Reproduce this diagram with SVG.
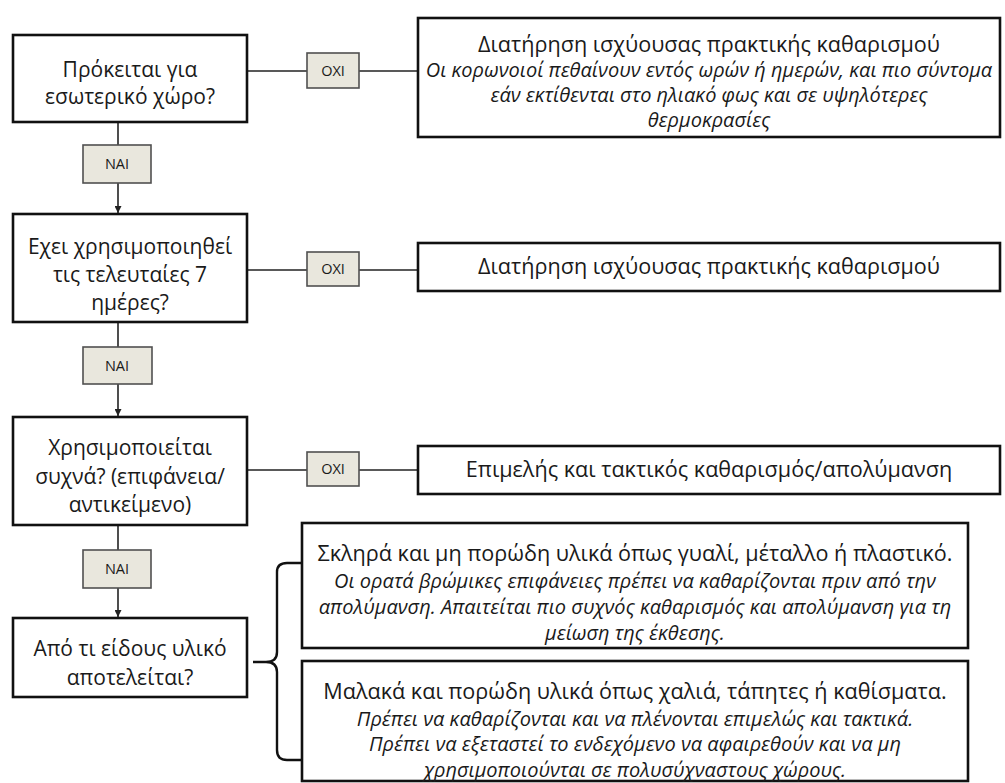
<svg xmlns="http://www.w3.org/2000/svg" width="1005" height="783" viewBox="0 0 1005 783">
<defs>
<style>
.box{fill:#fff;stroke:#111;stroke-width:2.6}
.lbl{fill:#e9e7dd;stroke:#505050;stroke-width:1.6}
.con{fill:none;stroke:#222;stroke-width:1.6}
.t{font-family:"Open Sans","Liberation Sans",Arial,sans-serif;fill:#1a1a1a;text-anchor:middle}
.q{font-size:21px}
.h{font-size:21.6px}
.i{font-size:20px;font-style:italic}
.l{font-size:14.5px}
</style>
<marker id="arr" viewBox="0 0 10 10" refX="10" refY="5" markerWidth="7" markerHeight="7" orient="auto" markerUnits="userSpaceOnUse">
<path d="M0,0 L10,5 L0,10 z" fill="#222"/>
</marker>
</defs>
<rect width="1005" height="783" fill="#fff"/>

<g id="connectors">
<line class="con" x1="247" y1="71" x2="307" y2="71"/>
<line class="con" x1="359" y1="71" x2="418" y2="71"/>
<line class="con" x1="247" y1="270" x2="307" y2="270"/>
<line class="con" x1="359" y1="270" x2="418" y2="270"/>
<line class="con" x1="247" y1="470" x2="307" y2="470"/>
<line class="con" x1="359" y1="470" x2="418" y2="470"/>
<line class="con" x1="118" y1="122" x2="118" y2="145"/>
<line class="con" x1="118" y1="183" x2="118" y2="213" marker-end="url(#arr)"/>
<line class="con" x1="118" y1="322" x2="118" y2="347"/>
<line class="con" x1="118" y1="384" x2="118" y2="416" marker-end="url(#arr)"/>
<line class="con" x1="118" y1="525" x2="118" y2="550"/>
<line class="con" x1="118" y1="588" x2="118" y2="617" marker-end="url(#arr)"/>
<path d="M253,662 L266,662 Q277,662 277,652 L277,572 Q277,563 287,563 L302,563 M266,662 Q277,662 277,672 L277,750 Q277,760 287,760 L302,760" fill="none" stroke="#111" stroke-width="2.4"/>
</g>

<g id="q1">
<rect class="box" x="13" y="35" width="234" height="87"/>
<text class="t q" x="130" y="77">Πρόκειται για</text>
<text class="t q" x="130" y="104">εσωτερικό χώρο?</text>
</g>
<g id="no1">
<rect class="lbl" x="307" y="53" width="52" height="35"/>
<text class="t l" x="333" y="76">OXI</text>
</g>
<g id="r1">
<rect class="box" x="418" y="18" width="582" height="119"/>
<text class="t h" x="709" y="52">Διατήρηση ισχύουσας πρακτικής καθαρισμού</text>
<text class="t i" x="709" y="77">Οι κορωνοιοί πεθαίνουν εντός ωρών ή ημερών, και πιο σύντομα</text>
<text class="t i" x="709" y="102">εάν εκτίθενται στο ηλιακό φως και σε υψηλότερες</text>
<text class="t i" x="709" y="127">θερμοκρασίες</text>
</g>
<g id="yes1">
<rect class="lbl" x="83" y="145" width="68" height="38"/>
<text class="t l" x="117" y="169">NAI</text>
</g>

<g id="q2">
<rect class="box" x="13" y="214" width="234" height="108"/>
<text class="t q" x="130" y="254">Εχει χρησιμοποιηθεί</text>
<text class="t q" x="130" y="282">τις τελευταίες 7</text>
<text class="t q" x="130" y="310">ημέρες?</text>
</g>
<g id="no2">
<rect class="lbl" x="307" y="252" width="52" height="34"/>
<text class="t l" x="333" y="274">OXI</text>
</g>
<g id="r2">
<rect class="box" x="418" y="243" width="582" height="48"/>
<text class="t h" x="709" y="274">Διατήρηση ισχύουσας πρακτικής καθαρισμού</text>
</g>
<g id="yes2">
<rect class="lbl" x="83" y="347" width="69" height="37"/>
<text class="t l" x="117" y="371">NAI</text>
</g>

<g id="q3">
<rect class="box" x="13" y="417" width="234" height="108"/>
<text class="t q" x="130" y="455">Χρησιμοποιείται</text>
<text class="t q" x="130" y="484">συχνά? (επιφάνεια/</text>
<text class="t q" x="130" y="512">αντικείμενο)</text>
</g>
<g id="no3">
<rect class="lbl" x="307" y="452" width="52" height="34"/>
<text class="t l" x="333" y="474">OXI</text>
</g>
<g id="r3">
<rect class="box" x="418" y="446" width="582" height="48"/>
<text class="t h" x="709" y="477">Επιμελής και τακτικός καθαρισμός/απολύμανση</text>
</g>
<g id="yes3">
<rect class="lbl" x="83" y="550" width="68" height="38"/>
<text class="t l" x="117" y="574">NAI</text>
</g>

<g id="q4">
<rect class="box" x="13" y="618" width="234" height="79"/>
<text class="t q" x="130" y="656">Από τι είδους υλικό</text>
<text class="t q" x="130" y="685">αποτελείται?</text>
</g>
<g id="s1">
<rect class="box" x="302" y="523" width="666" height="125"/>
<text class="t h" x="635" y="561">Σκληρά και μη πορώδη υλικά όπως γυαλί, μέταλλο ή πλαστικό.</text>
<text class="t i" x="635" y="588">Οι ορατά βρώμικες επιφάνειες πρέπει να καθαρίζονται πριν από την</text>
<text class="t i" x="635" y="614">απολύμανση. Απαιτείται πιο συχνός καθαρισμός και απολύμανση για τη</text>
<text class="t i" x="635" y="640">μείωση της έκθεσης.</text>
</g>
<g id="s2">
<rect class="box" x="302" y="661" width="666" height="120"/>
<text class="t h" x="635" y="699">Μαλακά και πορώδη υλικά όπως χαλιά, τάπητες ή καθίσματα.</text>
<text class="t i" x="635" y="726">Πρέπει να καθαρίζονται και να πλένονται επιμελώς και τακτικά.</text>
<text class="t i" x="635" y="751">Πρέπει να εξεταστεί το ενδεχόμενο να αφαιρεθούν και να μη</text>
<text class="t i" x="635" y="777">χρησιμοποιούνται σε πολυσύχναστους χώρους.</text>
</g>
</svg>
